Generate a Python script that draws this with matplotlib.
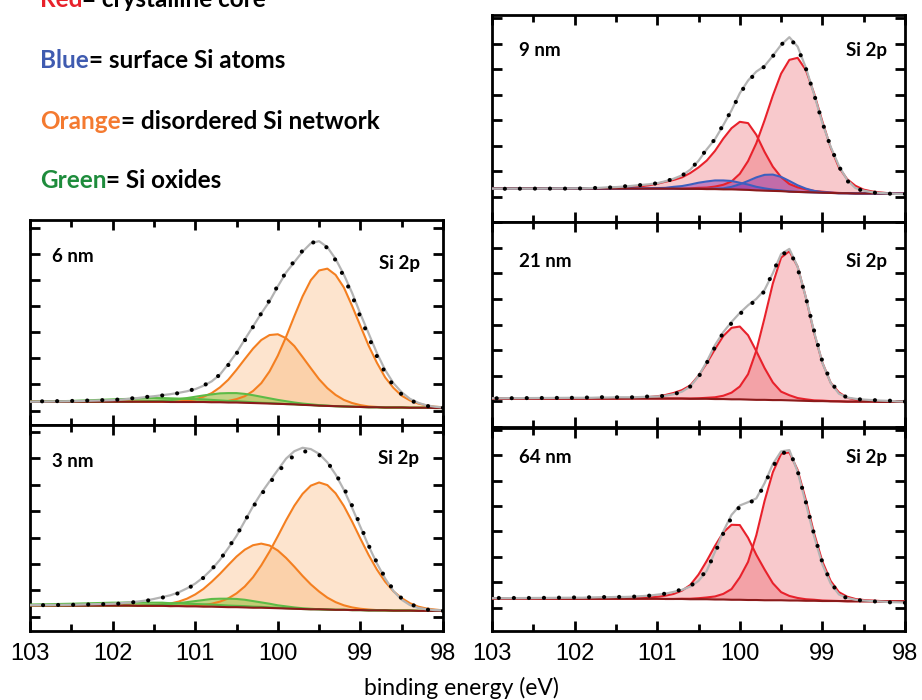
import numpy as np
import matplotlib.pyplot as plt
from matplotlib.ticker import MultipleLocator

# binding energy grid (eV), 0.1 eV steps up to 102, coarser beyond
energy = np.concatenate([np.round(np.arange(98.0, 102.05, 0.1), 1), [102.5, 103.0]])

# ---- 6 nm ----
bg6 = [0.10, 0.10, 0.11, 0.11, 0.11, 0.12, 0.12, 0.12, 0.13, 0.13,
       0.14, 0.15, 0.16, 0.17, 0.18, 0.19, 0.21, 0.22, 0.24, 0.25,
       0.26, 0.27, 0.28, 0.29, 0.30, 0.31, 0.31, 0.32, 0.32, 0.33,
       0.33, 0.33, 0.33, 0.33, 0.34, 0.34, 0.34, 0.34, 0.34, 0.34,
       0.34, 0.34, 0.34]
o1_6 = [0.03, 0.05, 0.09, 0.16, 0.28, 0.45, 0.75, 1.15, 1.70, 2.35,
        3.10, 3.85, 4.55, 5.02, 5.25, 5.17, 4.78, 4.15, 3.37, 2.57,
        1.84, 1.23, 0.77, 0.46, 0.25, 0.13, 0.06, 0.03, 0.01, 0,
        0, 0, 0, 0, 0, 0, 0, 0, 0, 0, 0, 0, 0]
o2_6 = [0, 0, 0, 0, 0, 0, 0, 0, 0.01, 0.03,
        0.07, 0.14, 0.25, 0.43, 0.68, 1.01, 1.41, 1.83, 2.23, 2.52,
        2.66, 2.62, 2.42, 2.08, 1.67, 1.25, 0.87, 0.57, 0.35, 0.20,
        0.10, 0.05, 0.02, 0.01, 0, 0, 0, 0, 0, 0, 0, 0, 0]
g1_6 = [0, 0, 0, 0, 0, 0, 0, 0, 0, 0,
        0, 0, 0, 0, 0.01, 0.02, 0.03, 0.05, 0.07, 0.11,
        0.15, 0.20, 0.25, 0.30, 0.34, 0.36, 0.36, 0.34, 0.30, 0.25,
        0.20, 0.15, 0.11, 0.07, 0.05, 0.03, 0.02, 0.01, 0, 0, 0, 0, 0]
g2_6 = [0, 0, 0, 0, 0, 0, 0, 0, 0, 0,
        0, 0, 0, 0, 0, 0, 0, 0, 0, 0,
        0.01, 0.02, 0.02, 0.03, 0.04, 0.05, 0.06, 0.07, 0.09, 0.10,
        0.11, 0.12, 0.13, 0.14, 0.14, 0.14, 0.13, 0.12, 0.11, 0.10,
        0.09, 0.03, 0.00]
fit6 = [0.12, 0.15, 0.20, 0.30, 0.45, 0.70, 1.05, 1.55, 2.20, 2.95,
        3.70, 4.50, 5.20, 5.80, 6.25, 6.48, 6.40, 6.08, 5.68, 5.28,
        4.75, 4.18, 3.72, 3.22, 2.72, 2.21, 1.78, 1.38, 1.12, 0.95,
        0.82, 0.74, 0.68, 0.63, 0.59, 0.55, 0.52, 0.48, 0.45, 0.42,
        0.40, 0.36, 0.34]
data6 = [0.11, 0.13, 0.18, 0.27, 0.40, 0.62, 0.95, 1.45, 2.08, 2.82,
         3.58, 4.40, 5.12, 5.75, 6.22, 6.46, 6.42, 6.12, 5.72, 5.30,
         4.78, 4.22, 3.72, 3.20, 2.68, 2.18, 1.74, 1.38, 1.12, 0.96,
         0.83, 0.74, 0.67, 0.62, 0.58, 0.55, 0.52, 0.49, 0.46, 0.43,
         0.41, 0.37, 0.35]

# ---- 3 nm ----
bg3 = [0.23, 0.23, 0.23, 0.23, 0.24, 0.24, 0.24, 0.25, 0.25, 0.25,
       0.26, 0.26, 0.27, 0.27, 0.28, 0.29, 0.29, 0.30, 0.31, 0.32,
       0.33, 0.34, 0.35, 0.35, 0.36, 0.37, 0.37, 0.38, 0.39, 0.39,
       0.40, 0.40, 0.41, 0.41, 0.42, 0.42, 0.42, 0.42, 0.43, 0.43,
       0.43, 0.43, 0.44]
o1_3 = [0.02, 0.05, 0.09, 0.16, 0.28, 0.47, 0.73, 1.08, 1.54, 2.09,
        2.70, 3.34, 3.92, 4.40, 4.70, 4.79, 4.67, 4.35, 3.89, 3.33,
        2.72, 2.13, 1.60, 1.15, 0.79, 0.52, 0.33, 0.20, 0.11, 0.06,
        0.03, 0.02, 0.01, 0, 0, 0, 0, 0, 0, 0, 0, 0, 0]
o2_3 = [0, 0, 0, 0, 0, 0, 0, 0, 0.01, 0.03,
        0.05, 0.10, 0.17, 0.29, 0.45, 0.67, 0.94, 1.25, 1.59, 1.91,
        2.18, 2.36, 2.42, 2.36, 2.18, 1.91, 1.59, 1.25, 0.94, 0.67,
        0.45, 0.29, 0.17, 0.10, 0.05, 0.03, 0.01, 0, 0, 0, 0, 0, 0]
g1_3 = [0, 0, 0, 0, 0, 0, 0, 0, 0, 0,
        0, 0, 0, 0, 0, 0, 0.02, 0.03, 0.05, 0.08,
        0.11, 0.16, 0.20, 0.25, 0.29, 0.31, 0.32, 0.31, 0.29, 0.25,
        0.20, 0.16, 0.11, 0.08, 0.05, 0.03, 0.02, 0.01, 0, 0, 0, 0, 0]
g2_3 = [0, 0, 0, 0, 0, 0, 0, 0, 0, 0,
        0, 0, 0, 0, 0, 0, 0, 0, 0.01, 0.01,
        0.02, 0.02, 0.03, 0.04, 0.05, 0.05, 0.06, 0.07, 0.08, 0.09,
        0.09, 0.10, 0.11, 0.11, 0.12, 0.12, 0.12, 0.12, 0.12, 0.11,
        0.11, 0.07, 0.03]
fit3 = [0.25, 0.26, 0.29, 0.34, 0.45, 0.65, 0.98, 1.45, 2.02, 2.68,
        3.40, 4.12, 4.80, 5.38, 5.84, 6.16, 6.34, 6.39, 6.26, 5.98,
        5.55, 5.12, 4.68, 4.18, 3.62, 3.06, 2.60, 2.16, 1.80, 1.50,
        1.26, 1.08, 0.93, 0.82, 0.75, 0.68, 0.62, 0.58, 0.55, 0.52,
        0.50, 0.46, 0.45]
data3 = [0.23, 0.25, 0.28, 0.36, 0.50, 0.70, 1.02, 1.48, 2.05, 2.70,
         3.45, 4.20, 4.88, 5.40, 5.85, 6.12, 6.25, 6.25, 6.10, 5.85,
         5.45, 5.05, 4.62, 4.15, 3.62, 3.08, 2.60, 2.16, 1.80, 1.48,
         1.24, 1.06, 0.90, 0.80, 0.73, 0.66, 0.61, 0.57, 0.54, 0.51,
         0.49, 0.46, 0.44]

# ---- 9 nm ----
bg9 = [1.11, 1.11, 1.11, 1.12, 1.12, 1.12, 1.12, 1.13, 1.13, 1.14,
       1.15, 1.16, 1.17, 1.18, 1.19, 1.21, 1.22, 1.23, 1.24, 1.26,
       1.27, 1.28, 1.28, 1.29, 1.29, 1.30, 1.30, 1.30, 1.31, 1.31,
       1.31, 1.31, 1.31, 1.31, 1.31, 1.31, 1.31, 1.31, 1.31, 1.31,
       1.31, 1.32, 1.32]
r1_9 = [0.01, 0.01, 0.02, 0.04, 0.08, 0.15, 0.30, 0.55, 1.01, 1.78,
        2.79, 3.88, 4.79, 5.26, 5.17, 4.61, 3.74, 2.76, 1.85, 1.13,
        0.62, 0.31, 0.18, 0.10, 0.06, 0.04, 0.02, 0.01, 0, 0,
        0, 0, 0, 0, 0, 0, 0, 0, 0, 0, 0, 0, 0]
r2_9 = [0, 0, 0, 0, 0, 0, 0, 0, 0.01, 0.02,
        0.04, 0.06, 0.11, 0.18, 0.30, 0.55, 0.95, 1.52, 2.18, 2.62,
        2.66, 2.40, 1.99, 1.50, 1.12, 0.84, 0.62, 0.45, 0.34, 0.27,
        0.19, 0.13, 0.09, 0.06, 0.04, 0.03, 0.02, 0.01, 0, 0, 0, 0, 0]
b1_9 = [0, 0, 0, 0, 0, 0, 0, 0, 0, 0,
        0, 0, 0, 0, 0.01, 0.03, 0.05, 0.09, 0.14, 0.21,
        0.27, 0.33, 0.35, 0.34, 0.30, 0.24, 0.17, 0.11, 0.07, 0.03,
        0.02, 0.01, 0, 0, 0, 0, 0, 0, 0, 0, 0, 0, 0]
b2_9 = [0, 0, 0, 0, 0, 0, 0, 0, 0, 0.01,
        0.02, 0.06, 0.14, 0.26, 0.42, 0.56, 0.64, 0.62, 0.51, 0.35,
        0.21, 0.10, 0.04, 0.02, 0.01, 0, 0, 0, 0, 0,
        0, 0, 0, 0, 0, 0, 0, 0, 0, 0, 0, 0, 0]
fit9 = [1.10, 1.10, 1.12, 1.14, 1.17, 1.23, 1.33, 1.65, 2.20, 2.95,
        3.88, 5.00, 6.05, 6.88, 7.25, 6.95, 6.52, 6.12, 5.90, 5.55,
        5.05, 4.38, 3.80, 3.25, 2.85, 2.40, 2.05, 1.83, 1.70, 1.60,
        1.52, 1.48, 1.45, 1.42, 1.39, 1.37, 1.36, 1.34, 1.33, 1.32,
        1.32, 1.31, 1.31]
data9 = [1.10, 1.11, 1.11, 1.13, 1.16, 1.22, 1.32, 1.62, 2.18, 2.95,
         3.90, 5.00, 6.02, 6.85, 7.22, 6.95, 6.50, 6.10, 5.86, 5.52,
         5.02, 4.38, 3.82, 3.25, 2.86, 2.42, 2.04, 1.82, 1.69, 1.60,
         1.52, 1.48, 1.45, 1.42, 1.40, 1.37, 1.35, 1.34, 1.33, 1.32,
         1.31, 1.31, 1.30]

# ---- 21 nm ----
bg21 = [0.98, 0.98, 0.98, 0.98, 0.99, 0.99, 0.99, 0.99, 1.00, 1.00,
        1.01, 1.01, 1.02, 1.03, 1.04, 1.05, 1.05, 1.06, 1.06, 1.07,
        1.08, 1.08, 1.09, 1.09, 1.10, 1.10, 1.10, 1.11, 1.11, 1.11,
        1.11, 1.11, 1.11, 1.11, 1.11, 1.11, 1.11, 1.11, 1.11, 1.11,
        1.11, 1.11, 1.11]
r1_21 = [0, 0.01, 0.01, 0.02, 0.03, 0.05, 0.08, 0.15, 0.35, 0.73,
         1.50, 2.66, 4.03, 5.23, 5.82, 5.56, 4.55, 3.20, 1.92, 0.99,
         0.50, 0.26, 0.13, 0.07, 0.04, 0.02, 0.01, 0, 0, 0,
         0, 0, 0, 0, 0, 0, 0, 0, 0, 0, 0, 0, 0]
r2_21 = [0, 0, 0, 0, 0, 0, 0, 0, 0, 0.01,
         0.02, 0.03, 0.06, 0.10, 0.20, 0.33, 0.69, 1.24, 1.90, 2.51,
         2.84, 2.79, 2.46, 1.95, 1.39, 0.90, 0.52, 0.33, 0.22, 0.14,
         0.09, 0.06, 0.04, 0.02, 0.01, 0, 0, 0, 0, 0, 0, 0, 0]
fit21 = [0.99, 1.00, 1.02, 1.03, 1.05, 1.07, 1.10, 1.15, 1.30, 1.72,
         2.50, 3.70, 5.05, 6.25, 6.95, 6.75, 6.00, 5.35, 5.00, 4.75,
         4.45, 4.10, 3.70, 3.20, 2.55, 1.98, 1.58, 1.38, 1.28, 1.22,
         1.19, 1.18, 1.17, 1.16, 1.16, 1.16, 1.15, 1.15, 1.14, 1.14,
         1.14, 1.13, 1.12]
data21 = [0.99, 1.01, 1.03, 1.04, 1.05, 1.07, 1.09, 1.15, 1.32, 1.78,
          2.55, 3.75, 5.05, 6.20, 6.90, 6.70, 6.05, 5.30, 4.95, 4.72,
          4.40, 4.05, 3.68, 3.12, 2.50, 1.95, 1.58, 1.38, 1.28, 1.22,
          1.19, 1.19, 1.18, 1.16, 1.16, 1.16, 1.17, 1.16, 1.15, 1.15,
          1.14, 1.13, 1.12]

# ---- 64 nm ----
bg64 = [1.24, 1.24, 1.24, 1.24, 1.25, 1.25, 1.25, 1.25, 1.26, 1.26,
        1.26, 1.27, 1.27, 1.28, 1.28, 1.29, 1.29, 1.29, 1.30, 1.30,
        1.31, 1.31, 1.32, 1.32, 1.33, 1.33, 1.33, 1.34, 1.34, 1.34,
        1.35, 1.35, 1.35, 1.35, 1.35, 1.35, 1.35, 1.35, 1.35, 1.35,
        1.35, 1.36, 1.36]
r1_64 = [0.01, 0.01, 0.01, 0.02, 0.03, 0.05, 0.09, 0.18, 0.35, 0.79,
         1.55, 2.65, 3.96, 5.14, 5.83, 5.76, 5.04, 3.91, 2.55, 1.50,
         0.88, 0.42, 0.22, 0.12, 0.07, 0.04, 0.02, 0.01, 0, 0,
         0, 0, 0, 0, 0, 0, 0, 0, 0, 0, 0, 0, 0]
r2_64 = [0, 0, 0, 0, 0, 0, 0, 0, 0, 0.01,
         0.02, 0.04, 0.06, 0.10, 0.18, 0.32, 0.67, 1.21, 1.78, 2.45,
         2.94, 2.95, 2.64, 2.11, 1.51, 0.97, 0.56, 0.33, 0.20, 0.13,
         0.08, 0.05, 0.03, 0.02, 0.01, 0, 0, 0, 0, 0, 0, 0, 0]
fit64 = [1.20, 1.21, 1.22, 1.24, 1.26, 1.28, 1.31, 1.38, 1.52, 1.95,
         2.70, 3.80, 5.10, 6.35, 7.20, 7.15, 6.65, 5.90, 5.30, 5.15,
         5.02, 4.65, 4.00, 3.20, 2.45, 2.05, 1.83, 1.70, 1.62, 1.55,
         1.51, 1.47, 1.45, 1.43, 1.42, 1.42, 1.41, 1.41, 1.40, 1.39,
         1.39, 1.38, 1.37]
data64 = [1.19, 1.20, 1.21, 1.23, 1.25, 1.27, 1.31, 1.36, 1.55, 2.00,
          2.78, 3.88, 5.15, 6.38, 7.18, 7.05, 6.55, 5.85, 5.25, 5.12,
          4.98, 4.55, 3.92, 3.15, 2.48, 2.08, 1.85, 1.72, 1.62, 1.55,
          1.51, 1.47, 1.45, 1.43, 1.42, 1.42, 1.42, 1.41, 1.41, 1.40,
          1.40, 1.38, 1.38]

legend_words = ['Red', 'Blue', 'Orange', 'Green']
legend_rest = ['= crystalline core', '= surface Si atoms',
               '= disordered Si network', '= Si oxides']
xtick_labels = ['103', '102', '101', '100', '99', '98']

# styles
STYLE = {
    'orange': dict(line='#f47f20', fill='#f8a050', alpha=0.28),
    'green': dict(line='#5dbb46', fill='#8dc63f', alpha=0.5),
    'red': dict(line='#e8212b', fill='#e8404a', alpha=0.28),
    'blue': dict(line='#3d5fbf', fill='#882bad', alpha=0.45),
}
WORD_COLORS = ['#e8212b', '#3f5bb0', '#f47a30', '#1e8c3c']
LABEL_FONT = ['Lato', 'DejaVu Sans']

W, H = 922, 700
fig = plt.figure(figsize=(W / 100, H / 100), dpi=100)


def px_rect(left, top, right, bottom):
    return [left / W, 1 - bottom / H, (right - left) / W, (bottom - top) / H]


panels = [
    dict(name='6 nm', box=(30, 220, 443, 425), ylim=(-0.55, 7.29), yt=range(0, 8),
         comps=[(o1_6, 'orange'), (o2_6, 'orange'), (g1_6, 'green'), (g2_6, 'green')],
         bg=bg6, fit=fit6, data=data6, name_xy=(0.053, 0.824), si_xy=(0.944, 0.79),
         xlabels=False),
    dict(name='3 nm', box=(30, 425, 443, 631), ylim=(-0.53, 7.25), yt=range(0, 8),
         comps=[(o1_3, 'orange'), (o2_3, 'orange'), (g1_3, 'green'), (g2_3, 'green')],
         bg=bg3, fit=fit3, data=data3, name_xy=(0.053, 0.822), si_xy=(0.942, 0.838),
         xlabels=True),
    dict(name='9 nm', box=(492, 15, 905, 222), ylim=(0, 8.12), yt=range(0, 9),
         comps=[(r1_9, 'red'), (r2_9, 'red'), (b1_9, 'blue'), (b2_9, 'blue')],
         bg=bg9, fit=fit9, data=data9, name_xy=(0.066, 0.83), si_xy=(0.956, 0.83),
         xlabels=False),
    dict(name='21 nm', box=(492, 222, 905, 427), ylim=(0, 8), yt=range(0, 9),
         comps=[(r1_21, 'red'), (r2_21, 'red')],
         bg=bg21, fit=fit21, data=data21, name_xy=(0.066, 0.806), si_xy=(0.956, 0.806),
         xlabels=False),
    dict(name='64 nm', box=(492, 428, 905, 631), ylim=(0.08, 8.07), yt=range(1, 9),
         comps=[(r1_64, 'red'), (r2_64, 'red')],
         bg=bg64, fit=fit64, data=data64, name_xy=(0.066, 0.854), si_xy=(0.956, 0.854),
         xlabels=True),
]

for p in panels:
    ax = fig.add_axes(px_rect(*p['box']))
    bg = np.array(p['bg'])
    for vals, kind in p['comps']:
        st = STYLE[kind]
        top = bg + np.array(vals)
        ax.fill_between(energy, bg, top, color=st['fill'], alpha=st['alpha'], lw=0, zorder=1)
        ax.plot(energy, top, color=st['line'], lw=1.5, zorder=3)
    ax.plot(energy, bg, color='#8b1a1a', lw=1.5, zorder=4)
    ax.plot(energy, p['fit'], color='#b4b4b4', lw=1.6, zorder=5)
    ax.plot(energy, p['data'], color='black', lw=3.0, linestyle=(0, (0.01, 3.6)),
            dash_capstyle='round', zorder=6)

    ax.set_xlim(103, 98)
    ax.set_ylim(*p['ylim'])
    ax.xaxis.set_major_locator(MultipleLocator(1))
    ax.xaxis.set_minor_locator(MultipleLocator(0.5))
    ax.set_yticks(list(p['yt']))
    ax.tick_params(which='both', direction='in', top=True, right=True, width=2,
                   labelleft=False, labelbottom=p['xlabels'])
    ax.tick_params(which='major', length=7, pad=9)
    ax.tick_params(which='minor', length=5)
    if p['xlabels']:
        ax.set_xticks([103, 102, 101, 100, 99, 98])
        ax.set_xticklabels(xtick_labels, fontsize=17, family='Liberation Sans')
    for s in ax.spines.values():
        s.set_linewidth(2)

    ax.text(*p['name_xy'], p['name'], transform=ax.transAxes, ha='left', va='center',
            fontsize=13.5, fontweight='bold', family=LABEL_FONT)
    ax.text(*p['si_xy'], 'Si 2p', transform=ax.transAxes, ha='right', va='center',
            fontsize=13.5, fontweight='bold', family=LABEL_FONT)

fig.text(461 / W, 1 - 688 / H, 'binding energy (eV)', ha='center', va='center',
         fontsize=16.5, family=LABEL_FONT)

# colour key at top left (first line runs off the top edge, as in the source figure)
lax = fig.add_axes([0, 0, 1, 1])
lax.axis('off')
lax.set_xlim(0, W)
lax.set_ylim(H, 0)
key_baselines = [7, 68, 129, 188]
for word, rest, col, yb in zip(legend_words, legend_rest, WORD_COLORS, key_baselines):
    t = lax.text(40, yb, word, color=col, fontsize=17.5, fontweight='bold',
                 family=LABEL_FONT, va='baseline', ha='left')
    lax.annotate(rest, xy=(1, 0), xycoords=t, va='bottom', ha='left', color='black',
                 fontsize=17.5, fontweight='bold', family=LABEL_FONT)

fig.savefig('out.png', dpi=100)
